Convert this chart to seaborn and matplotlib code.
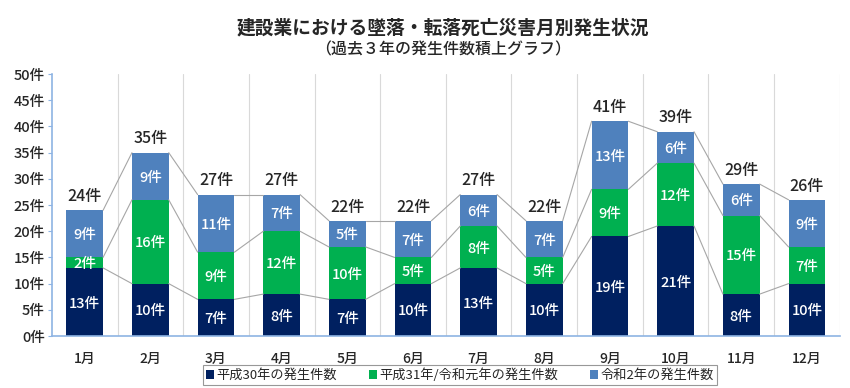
import matplotlib
matplotlib.use("Agg")
import matplotlib.pyplot as plt
import numpy as np
import pandas as pd
import seaborn as sns
from matplotlib.patches import Patch

MONTHS = ["1月", "2月", "3月", "4月", "5月", "6月", "7月", "8月", "9月", "10月", "11月", "12月"]
H30 = [13, 10, 7, 8, 7, 10, 13, 10, 19, 21, 8, 10]
H31 = [2, 16, 9, 12, 10, 5, 8, 5, 9, 12, 15, 7]
R2 = [9, 9, 11, 7, 5, 7, 6, 7, 13, 6, 6, 9]
SERIES = ["平成30年の発生件数", "平成31年/令和元年の発生件数", "令和2年の発生件数"]
COLORS = ["#002060", "#00B050", "#4F81BD"]

sns.set_style("white")
plt.rcParams["font.family"] = ["Noto Sans CJK JP", "DejaVu Sans"]

df = pd.DataFrame({"month": MONTHS, "h30": H30, "h31": H31, "r2": R2})
df["c1"] = df["h30"]
df["c2"] = df["h30"] + df["h31"]
df["c3"] = df["c2"] + df["r2"]

fig = plt.figure(figsize=(8.5, 3.88), dpi=100)
ax = fig.add_axes([0.061, 0.134, 0.927, 0.675])

W = 0.56
# stacked bars: draw cumulative totals from the top down
for col, color in zip(["c3", "c2", "c1"], COLORS[::-1]):
    sns.barplot(data=df, x="month", y=col, color=color, width=W,
                saturation=1, ax=ax, edgecolor="none")

# series lines between bars
x = np.arange(len(MONTHS))
for col in ["c1", "c2", "c3"]:
    v = df[col].values
    for i in range(len(v) - 1):
        ax.plot([x[i] + W / 2, x[i + 1] - W / 2], [v[i], v[i + 1]],
                color="#A6A6A6", lw=0.8, zorder=1)

# segment labels
for lo_col, val_col in [(None, "h30"), ("c1", "h31"), ("c2", "r2")]:
    lo = df[lo_col].values if lo_col else np.zeros(len(df))
    for i, v in enumerate(df[val_col].values):
        ax.text(x[i], lo[i] + v / 2 - 0.3, f"{v}件", ha="center", va="center",
                color="white", fontsize=10.5, fontweight="medium")

for i, t in enumerate(df["c3"].values):
    ax.text(x[i], t + 1.0, f"{t}件", ha="center", va="bottom", fontsize=11.5,
            fontweight="medium")

ax.set_xlim(-0.5, 11.5)
ax.set_ylim(0, 50)
ax.set_yticks(range(0, 51, 5))
ax.set_yticklabels([f"{v}件" for v in range(0, 51, 5)], fontsize=10.5,
                   fontweight="medium")
ax.set_xticks(x)
ax.set_xticklabels(MONTHS, fontsize=10, fontweight="medium")
ax.set_xticks(x + 0.5, minor=True)
ax.grid(True, which="minor", axis="x", color="#D9D9D9", lw=0.8)
ax.set_axisbelow(True)
ax.set_xlabel("")
ax.set_ylabel("")
for s in ["top", "right"]:
    ax.spines[s].set_visible(False)
for s in ["left", "bottom"]:
    ax.spines[s].set_color("#8EB4E3")
    ax.spines[s].set_linewidth(1.2)
ax.tick_params(axis="y", which="major", left=True, length=3, color="#8EB4E3", pad=2)
ax.tick_params(axis="x", which="both", bottom=False, pad=8)

fig.text(0.521, 0.928, "建設業における墜落・転落死亡災害月別発生状況", ha="center",
         va="center", fontsize=13.5, fontweight="bold")
fig.text(0.521, 0.872, "（過去３年の発生件数積上グラフ）", ha="center", va="center",
         fontsize=11.5, fontweight="medium")

handles = [Patch(facecolor=c, edgecolor="none") for c in COLORS]
leg = fig.legend(handles, SERIES, loc="center", bbox_to_anchor=(0.541, 0.033), ncol=3,
                 fontsize=9.5, frameon=True, fancybox=False, handlelength=0.6,
                 handleheight=0.6, handletextpad=0.2, columnspacing=2.4,
                 borderpad=0.25)
leg.get_frame().set_edgecolor("#7F7F7F")
leg.get_frame().set_linewidth(0.8)

fig.savefig("out.png", dpi=100)
